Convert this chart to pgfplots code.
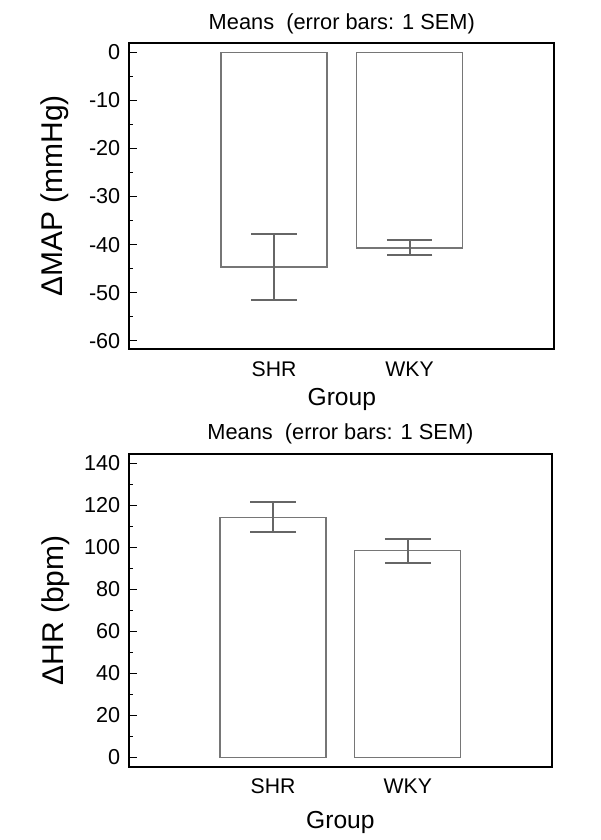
\documentclass[border=0pt]{standalone}
\usepackage{fontspec}
\setmainfont{Liberation Sans}
\usepackage{pgfplots}
\pgfplotsset{compat=1.18}
\definecolor{barline}{HTML}{767676}
\definecolor{errcol}{HTML}{666666}
\pgfplotsset{
  common/.style={
    scale only axis,
    ybar, bar width=53pt,
    xmin=-0.067, xmax=3.067,
    xtick={1,2}, xticklabels={SHR,WKY},
    xtick style={draw=none},
    ytick pos=left,
    tick align=inside,
    major tick length=4pt, minor tick length=2pt,
    minor y tick num=1,
    axis line style={line width=1pt},
    ytick style={black, line width=0.6pt},
    /pgf/number format/assume math mode=true,
    yticklabel style={font=\fontsize{10.8}{12}\selectfont, xshift=-1pt},
    xticklabel style={font=\fontsize{10.6}{12}\selectfont, anchor=base},
    title style={font=\fontsize{10.9}{12}\selectfont, at={(0.5,1)}, anchor=base},
    xlabel style={font=\fontsize{12.3}{14}\selectfont, at={(0.5,0)}, anchor=base},
    ylabel style={font=\fontsize{15}{17}\selectfont, at={(axis description cs:-0.175,0.5)}, anchor=center},
    title={Means\ \ (error bars: 1 SEM)},
    xlabel={Group},
  }
}
\begin{document}
\begin{tikzpicture}
\useasboundingbox (0,0) rectangle (300pt,420pt);
% top panel
\begin{axis}[common,
  at={(64.65pt,245.5pt)}, anchor=south west,
  width=212.5pt, height=152.85pt,
  ymin=-61.72, ymax=1.87,
  ytick={-60,-50,...,0},
  xticklabel style={yshift=-13.85pt},
  xlabel style={yshift=-28.5pt},
  title style={yshift=0.7pt},
  ylabel={ΔMAP (mmHg)},
]
\addplot[draw=barline, fill=white, line width=0.7pt,
  error bars/.cd, y dir=both, y explicit,
  error bar style={errcol, line width=1pt},
  error mark options={errcol, line width=1pt, mark size=11.4pt, rotate=90}]
  coordinates {(1,-44.7) +- (0,6.8) (2,-40.7) +- (0,1.55)};
\end{axis}
% bottom panel
\begin{axis}[common,
  at={(64.65pt,36.65pt)}, anchor=south west,
  width=211.1pt, height=156.1pt,
  ymin=-4.48, ymax=144.2,
  ytick={0,20,...,140},
  xticklabel style={yshift=-13.3pt},
  xlabel style={yshift=-30.8pt},
  title style={yshift=1.25pt},
  ylabel={ΔHR (bpm)},
]
\addplot[draw=barline, fill=white, line width=0.7pt,
  error bars/.cd, y dir=both, y explicit,
  error bar style={errcol, line width=1pt},
  error mark options={errcol, line width=1pt, mark size=11.5pt, rotate=90}]
  coordinates {(1,114.3) +- (0,7.15) (2,98.4) +- (0,5.7)};
\end{axis}
\end{tikzpicture}
\end{document}
